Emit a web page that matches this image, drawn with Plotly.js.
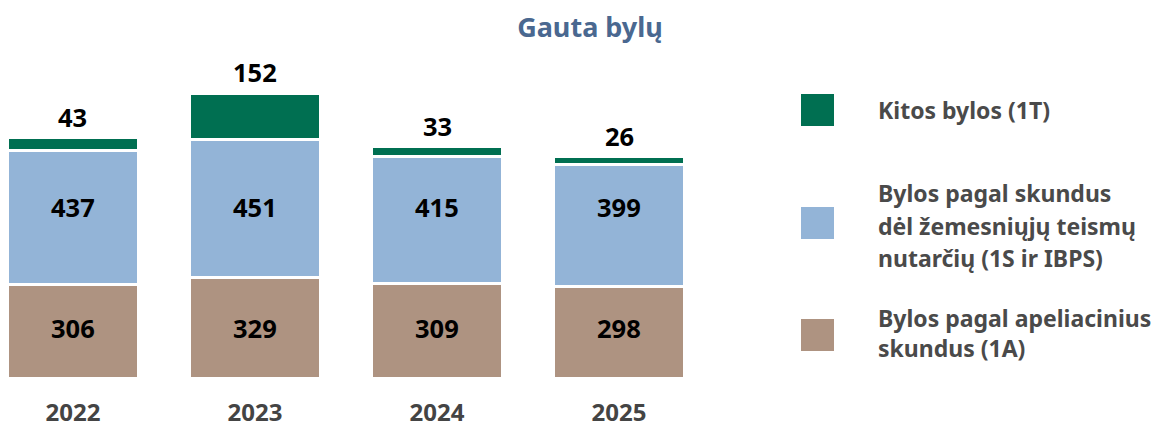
<!DOCTYPE html>
<html>
<head>
<meta charset="utf-8">
<script src="https://cdn.plot.ly/plotly-3.0.1.min.js"></script>
<style>html,body{margin:0;padding:0;background:#fff;}#chart{width:1153px;height:423px;}</style>
</head>
<body>
<div id="chart"></div>
<script>
const years = ['2022', '2023', '2024', '2025'];
const appealCases = [306, 329, 309, 298];        // 1A
const lowerCourtCases = [437, 451, 415, 399];    // 1S ir IBPS
const otherCases = [43, 152, 33, 26];            // 1T

const seriesNames = ['Kitos bylos (1T)', 'Bylos pagal skundus dėl žemesniųjų teismų nutarčių (1S ir IBPS)', 'Bylos pagal apeliacinius skundus (1A)'];
const legendLines = [
  ['Kitos bylos (1T)'],
  ['Bylos pagal skundus', 'dėl žemesniųjų teismų', 'nutarčių (1S ir IBPS)'],
  ['Bylos pagal apeliacinius', 'skundus (1A)']
];

const colors = { green: '#006f51', blue: '#93b4d7', brown: '#ae9381' };
const FONT = '"Noto Sans", Lato, sans-serif';

const W = 1153, H = 423;
const M = { l: 0, r: 453, t: 60, b: 45 };
const plotW = W - M.l - M.r, plotH = H - M.t - M.b;
const px2x = px => (px - M.l) / plotW;
const py2y = py => (H - M.b - py) / plotH;

const mk = (name, y, color) => ({
  type: 'bar', x: years, y: y, name: name,
  marker: { color: color, line: { color: '#ffffff', width: 3 } },
  textposition: 'none', hoverinfo: 'x+y+name', showlegend: false
});

const traces = [
  mk(seriesNames[2], appealCases, colors.brown),
  mk(seriesNames[1], lowerCourtCases, colors.blue),
  mk(seriesNames[0], otherCases, colors.green)
];

const labelFont = { family: FONT, size: 25.5, color: '#000000', weight: 'bold' };
// Inside labels aligned in a row at the tallest segment midpoint
const brownRowY = Math.max(...appealCases.map(v => v / 2));
const blueRowY = Math.max(...appealCases.map((v, i) => v + lowerCourtCases[i] / 2));

const annotations = [];
years.forEach((yr, i) => {
  annotations.push({ x: i, y: brownRowY, xref: 'x', yref: 'y', text: String(appealCases[i]),
    showarrow: false, yanchor: 'middle', font: labelFont });
  annotations.push({ x: i, y: blueRowY, xref: 'x', yref: 'y', text: String(lowerCourtCases[i]),
    showarrow: false, yanchor: 'middle', yshift: 1, font: labelFont });
  annotations.push({ x: i, y: appealCases[i] + lowerCourtCases[i] + otherCases[i],
    xref: 'x', yref: 'y', text: String(otherCases[i]), showarrow: false,
    yanchor: 'bottom', yshift: 2, font: labelFont });
});

const shapes = [];
const legendColors = [colors.green, colors.blue, colors.brown];
const boxTops = [94, 207, 319];
const lineCenters = [[110], [193, 226, 258], [318, 348]];
legendColors.forEach((c, k) => {
  shapes.push({ type: 'rect', xref: 'paper', yref: 'paper',
    x0: px2x(801), x1: px2x(834), y0: py2y(boxTops[k] + 32), y1: py2y(boxTops[k]),
    fillcolor: c, line: { width: 0 } });
  legendLines[k].forEach((t, j) => {
    annotations.push({ xref: 'paper', yref: 'paper', x: px2x(876), y: py2y(lineCenters[k][j]),
      xanchor: 'left', yanchor: 'middle', text: t, showarrow: false,
      font: { family: FONT, size: 23, color: '#4a4a4a', weight: 'bold' } });
  });
});

const layout = {
  width: W, height: H,
  margin: M,
  paper_bgcolor: '#ffffff', plot_bgcolor: '#ffffff',
  barmode: 'stack', bargap: 0.28,
  title: { text: 'Gauta bylų', x: 590 / W, xanchor: 'center', y: 1 - 28 / H, yanchor: 'middle',
    font: { family: FONT, size: 27, color: '#4a6890', weight: 'bold' } },
  xaxis: { type: 'category', range: [-0.401, 3.445], showgrid: false, zeroline: false, showline: false,
    ticks: '', ticklabelstandoff: 18, fixedrange: true,
    tickfont: { family: FONT, size: 24, color: '#444444', weight: 'bold' } },
  yaxis: { range: [0, 1040], visible: false, showgrid: false, zeroline: false, fixedrange: true },
  annotations: annotations, shapes: shapes, showlegend: false
};

Plotly.newPlot('chart', traces, layout, { displayModeBar: false, staticPlot: true });
</script>
</body>
</html>
